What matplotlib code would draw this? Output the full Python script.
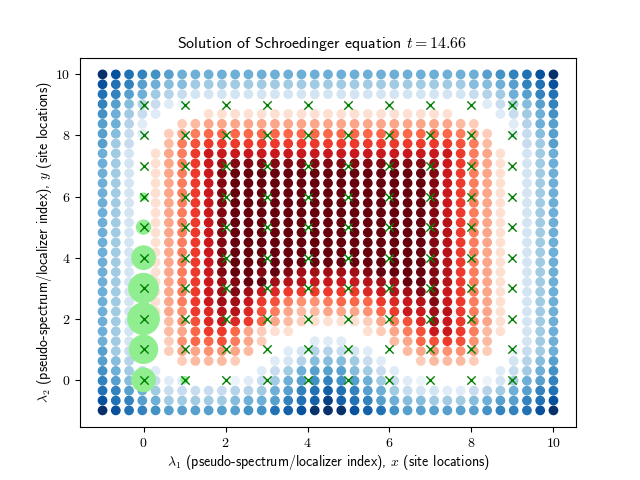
#!/usr/bin/env python3
import matplotlib
matplotlib.use('Agg')
import matplotlib.pyplot as plt
import numpy as np
from matplotlib.colors import ListedColormap

plt.rcParams['mathtext.fontset'] = 'cm'
plt.rcParams['font.family'] = 'cmr10'
plt.rcParams['axes.unicode_minus'] = False
plt.rcParams['axes.formatter.use_mathtext'] = True

# wave amplitude, rows from y=10 down to y=-1
# negative -> Blues, positive -> Reds, 0 -> nothing visible
amplitude = [
    [-16,-14,-12,-11,-10,-9,-8,-8,-8,-8,-8,-8,-8,-8,-8,-8,-8,-8,-8,-8,-8,-8,-8,-8,-8,-8,-8,-8,-8,-9,-10,-11,-12,-14,-16],
    [-14,-12,-11,-9,-8,-7,-7,-6,-6,-6,-6,-6,-6,-6,-6,-6,-6,-6,-6,-6,-6,-6,-6,-6,-6,-6,-6,-6,-7,-7,-8,-9,-11,-12,-14],
    [-12,-11,-9,-8,-6,-5,-4,-3,-3,-3,-3,-3,-3,-3,-3,-3,-3,-3,-3,-3,-3,-3,-3,-3,-3,-3,-3,-3,-4,-5,-6,-8,-9,-11,-12],
    [-11,-9,-7,-5,-4,-2,-1,0,0,0,0,0,0,0,0,0,0,0,0,0,0,0,0,0,0,0,0,0,0,-2,-4,-5,-7,-9,-11],
    [-10,-8,-6,-4,-2,0,0,0,2,2,2,2,2,2,2,2,2,2,2,2,2,2,2,2,2,2,2,0,0,0,-2,-4,-6,-8,-10],
    [-9,-8,-5,-2,0,0,3,4,5,5,5,5,5,5,5,5,5,5,5,5,5,5,5,5,5,5,5,4,3,0,0,-2,-5,-8,-9],
    [-9,-7,-4,-2,0,3,5,7,8,8,8,8,8,8,8,8,8,8,8,8,8,8,8,8,8,8,8,7,5,3,0,-2,-4,-7,-9],
    [-9,-6,-4,0,0,4,7,9,10,10,10,10,10,10,10,10,10,10,10,10,10,10,10,10,10,10,10,9,7,4,0,0,-4,-6,-9],
    [-8,-6,-3,0,2,5,7,10,12,12,12,12,12,12,12,12,12,12,12,12,12,12,12,12,12,12,12,10,7,5,2,0,-3,-6,-8],
    [-8,-6,-3,0,2,5,7,10,12,14,15,15,15,15,15,15,15,15,15,15,15,15,15,15,15,14,12,10,7,5,2,0,-3,-6,-8],
    [-8,-6,-3,0,2,5,7,10,12,15,16,16,16,16,16,16,16,16,16,16,16,16,16,16,16,15,12,10,7,5,2,0,-3,-6,-8],
    [-8,-6,-3,0,2,5,7,10,12,15,16,16,16,16,16,16,16,16,16,16,16,16,16,16,16,15,12,10,7,5,2,0,-3,-6,-8],
    [-8,-6,-3,0,2,5,7,10,12,15,16,16,16,16,16,16,16,16,16,16,16,16,16,16,16,15,12,10,7,5,2,0,-3,-6,-8],
    [-8,-6,-3,0,2,5,7,10,12,15,16,16,16,16,16,16,16,16,16,16,16,16,16,16,16,15,12,10,7,5,2,0,-3,-6,-8],
    [-8,-6,-3,0,2,5,7,10,12,15,16,16,16,16,16,16,16,16,16,16,16,16,16,16,16,15,12,10,7,5,2,0,-3,-6,-8],
    [-8,-6,-3,0,2,5,7,10,12,15,16,16,16,16,16,16,16,16,16,16,16,16,16,16,16,15,13,10,7,5,2,0,-3,-6,-8],
    [-8,-6,-3,0,2,5,7,10,12,15,16,16,16,16,16,16,16,16,16,16,16,16,16,16,16,15,13,10,7,5,2,0,-3,-6,-8],
    [-8,-6,-3,0,2,5,7,10,12,15,16,16,16,16,16,16,16,16,16,16,16,16,16,16,16,15,13,10,7,5,2,0,-3,-6,-8],
    [-8,-6,-3,0,2,5,7,10,12,15,16,16,16,16,16,16,16,16,16,16,16,16,16,16,16,15,13,10,7,5,2,0,-3,-6,-8],
    [-8,-6,-3,0,2,5,7,10,12,15,16,16,16,16,16,16,16,16,16,16,16,16,16,16,16,15,13,10,7,5,2,0,-3,-6,-8],
    [-8,-6,-3,0,2,5,7,10,12,15,16,16,15,16,15,14,14,14,14,14,15,16,16,16,16,15,13,10,7,5,2,0,-3,-6,-8],
    [-8,-6,-3,0,2,5,7,10,12,14,15,16,16,14,13,13,12,12,12,12,13,14,14,16,16,15,13,10,7,5,2,0,-3,-6,-8],
    [-8,-6,-3,0,2,5,7,10,12,14,15,14,12,11,10,10,10,10,10,10,11,12,13,14,15,15,12,10,7,5,2,0,-3,-6,-8],
    [-8,-6,-3,0,2,5,7,10,12,14,14,12,10,9,7,6,6,7,8,8,8,10,11,12,13,15,12,10,7,5,2,0,-3,-6,-8],
    [-8,-6,-3,0,2,5,6,10,11,13,13,11,9,7,5,4,4,5,5,5,6,8,10,12,12,14,13,10,7,5,2,0,-3,-6,-8],
    [-8,-6,-3,0,0,4,6,9,11,12,11,10,8,5,4,3,2,2,2,2,3,5,7,9,11,14,12,10,7,5,2,0,-3,-6,-8],
    [-8,-6,-3,0,0,4,5,8,10,10,8,5,3,2,2,0,0,0,0,0,2,3,5,7,9,12,12,10,7,4,2,0,-3,-6,-8],
    [-8,-6,-3,0,0,3,6,8,8,9,7,5,3,0,0,0,-2,-2,-2,0,0,0,4,5,8,9,10,9,6,4,0,0,-3,-6,-8],
    [-9,-6,-4,0,0,3,5,5,6,6,5,4,0,0,-2,-3,-5,-5,-4,-3,-2,0,0,4,5,6,6,6,5,3,0,-1,-4,-6,-8],
    [-9,-7,-5,0,0,0,3,4,4,4,3,0,0,-2,-3,-5,-7,-7,-7,-6,-4,-2,0,0,3,4,4,4,3,0,0,-3,-5,-7,-9],
    [-10,-8,-6,-4,-2,0,0,0,0,0,0,0,-2,-4,-6,-8,-9,-9,-9,-7,-6,-4,-2,0,0,0,0,0,0,0,-2,-4,-6,-8,-10],
    [-11,-9,-7,-5,-4,-2,-2,0,0,0,-1,-2,-4,-6,-8,-9,-10,-11,-10,-9,-8,-6,-4,-2,-1,0,0,0,0,-1,-3,-6,-8,-9,-11],
    [-12,-11,-9,-8,-6,-4,-4,-4,-4,-4,-5,-5,-6,-8,-9,-11,-12,-13,-12,-11,-9,-8,-6,-4,-3,-3,-2,-2,-4,-5,-6,-8,-9,-11,-12],
    [-14,-12,-11,-9,-8,-6,-6,-6,-6,-6,-7,-8,-8,-9,-11,-12,-13,-15,-13,-12,-11,-9,-8,-7,-7,-6,-6,-6,-7,-8,-9,-9,-11,-12,-14],
    [-16,-14,-12,-11,-10,-9,-9,-9,-9,-9,-9,-10,-10,-12,-13,-14,-16,-16,-16,-14,-13,-12,-10,-9,-9,-9,-9,-9,-9,-10,-11,-11,-12,-14,-16],
]

# probability bubbles on the sites
site_x = [0, 0, 0, 0, 0, 0, 0, 1]
site_y = [0, 1, 2, 3, 4, 5, 6, 0]
site_s = [282, 406, 509, 445, 282, 100, 25, 22]

site_labels = list(range(10))
title = r'Solution of Schroedinger equation $t = 14.66$'
xlabel = r'$\lambda_1$ (pseudo-spectrum/localizer index), $x$ (site locations)'
ylabel = r'$\lambda_2$ (pseudo-spectrum/localizer index), $y$ (site locations)'

blue_red = ListedColormap(np.vstack((plt.cm.Blues(np.linspace(1, 0, 128)),
                                     plt.cm.Reds(np.linspace(0, 1, 128)))))

vals = np.array(amplitude, dtype=float)
grid = np.linspace(-1, 10, vals.shape[1])
X, Y = np.meshgrid(grid, grid[::-1])
keep = vals != 0

fig, ax = plt.subplots(figsize=(6.4, 4.8), dpi=100)
ax.scatter(X[keep], Y[keep], c=vals[keep], cmap=blue_red, vmin=-16, vmax=16)
ax.scatter(site_x, site_y, s=site_s, c='lightgreen')
sx, sy = np.meshgrid(site_labels, site_labels)
ax.scatter(sx.ravel(), sy.ravel(), marker='x', c='g', linewidths=1.0)

ax.set_title(title, family='cmss10', fontsize=11.4, x=0.487, pad=6.8)
ax.set_xlabel(xlabel, family='cmss10', fontsize=10, labelpad=2)
ax.set_ylabel(ylabel, family='cmss10', fontsize=10, labelpad=0.5)
fig.savefig('out.png', dpi=100)
